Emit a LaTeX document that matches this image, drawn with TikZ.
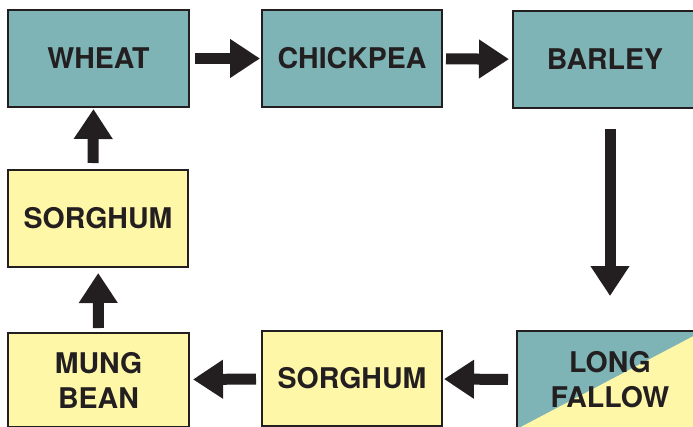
\documentclass[tikz,border=0pt]{standalone}
\usepackage{fontspec}
\setmainfont{TeX Gyre Heros}
\usetikzlibrary{arrows.meta,positioning}
\definecolor{cropteal}{HTML}{7EB4B6}
\definecolor{cropyellow}{HTML}{FFF7A8}
\definecolor{inkdark}{HTML}{231F20}

\begin{document}
\begin{tikzpicture}[x=1pt,y=-1pt,
	crop/.style={rectangle,draw=inkdark,line width=2.4pt,inner sep=0pt,outer sep=0pt,text=inkdark,align=center,font=\fontsize{28.5}{35}\selectfont\bfseries},
	cereal/.style={crop,fill=cropteal,minimum width=181pt,minimum height=97pt},
	summer/.style={crop,fill=cropyellow,minimum width=180pt,minimum height=96pt},
	fallow/.style={crop,fill=cropteal,path picture={\fill[cropyellow] (path picture bounding box.south west) -- (path picture bounding box.north east) |- cycle;}},
	flow/.style={draw=inkdark,line width=11pt,-{Triangle[width=37pt,length=30pt]}}]
	
	\useasboundingbox (0,0) rectangle (693,426);
	
	\node[cereal] (wheat) at (98.5,58.5) {WHEAT};
	\node[cereal,minimum width=180pt] (chickpea) at (352,58.5) {CHICKPEA};
	\node[cereal,minimum width=184pt] (barley) at (605,59.5) {BARLEY};
	\node[fallow,minimum width=186pt,minimum height=98pt] (longfallow) at (610,380) {LONG\\FALLOW};
	\node[summer,minimum height=95pt] (sorghumright) at (352,378.5) {SORGHUM};
	\node[summer,minimum width=181pt,minimum height=94pt] (mungbean) at (98.5,380) {MUNG\\BEAN};
	\node[summer,minimum height=97pt] (sorghumleft) at (98,218.5) {SORGHUM};
	
	\draw[flow,shorten <=6pt,shorten >=2pt] (wheat) -- (chickpea);
	\draw[flow,shorten <=4pt,shorten >=4pt] (chickpea) -- (barley);
	\draw[flow,shorten <=21pt,shorten >=35pt] (barley.south -| longfallow.north) -- (longfallow.north);
	\draw[flow,shorten <=9pt,shorten >=2pt] (longfallow) -- (sorghumright);
	\draw[flow,shorten <=6pt,shorten >=4pt] (sorghumright) -- (mungbean);
	\draw[flow,shorten <=5pt,shorten >=6pt] (mungbean) -- (sorghumleft);
	\draw[flow,shorten <=7pt,shorten >=2pt] ([xshift=-5pt]sorghumleft.north) -- ([xshift=-5pt]wheat.south);
	
\end{tikzpicture}
\end{document}
